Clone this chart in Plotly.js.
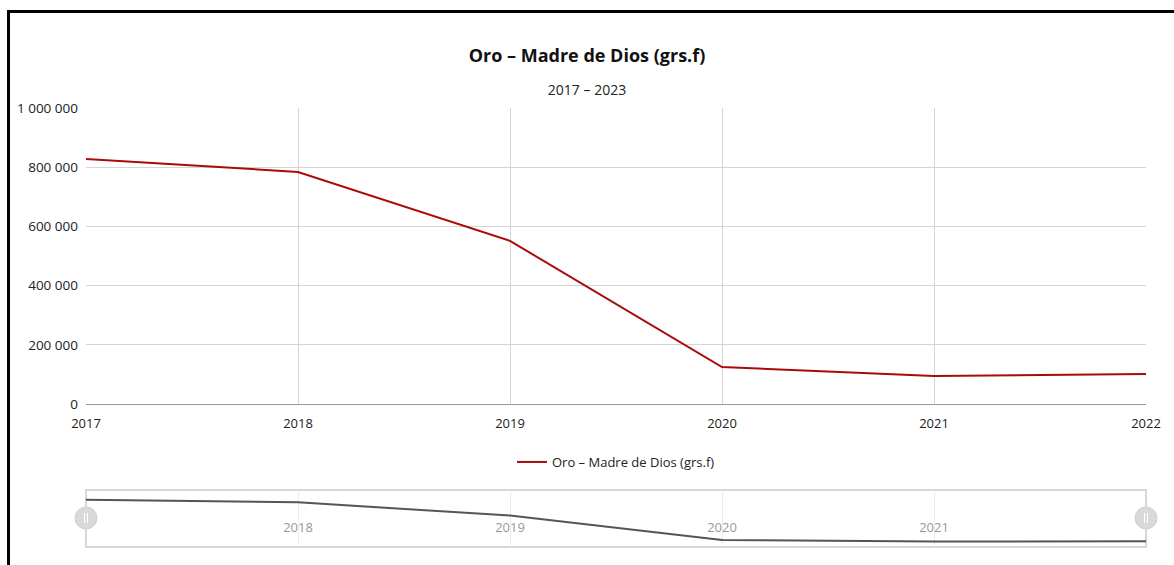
<!DOCTYPE html>
<html>
<head>
<meta charset="utf-8">
<script src="https://cdn.plot.ly/plotly-3.0.1.min.js"></script>
<style>
html,body{margin:0;padding:0;background:#fff;}
#wrap{position:relative;width:1174px;height:565px;overflow:hidden;}
#frame{position:absolute;left:7px;top:10px;width:1200px;height:600px;border-top:3px solid #000;border-left:3px solid #000;pointer-events:none;z-index:5;}
#chart{position:absolute;left:0;top:0;width:1174px;height:565px;}
</style>
</head>
<body>
<div id="wrap"><div id="chart"></div><div id="frame"></div></div>
<script>
const years = [2017, 2018, 2019, 2020, 2021, 2022];
const values = [828000, 784000, 551000, 125000, 95000, 101000];
const seriesName = "Oro – Madre de Dios (grs.f)";
const chartTitle = "Oro – Madre de Dios (grs.f)";
const chartSubtitle = "2017 – 2023";
const yTicks = [0, 200000, 400000, 600000, 800000, 1000000];
const navTicks = [2018, 2019, 2020, 2021];

const font = "Open Sans, DejaVu Sans, sans-serif";

const traces = [
  {x: years, y: values, type: "scatter", mode: "lines", name: seriesName,
   line: {color: "#aa0a0a", width: 2}, xaxis: "x", yaxis: "y", hoverinfo: "x+y"},
  {x: years, y: values, type: "scatter", mode: "lines", showlegend: false,
   line: {color: "#555555", width: 2}, xaxis: "x2", yaxis: "y2", hoverinfo: "skip"}
];

const handle = (xd) => ({type: "circle", xref: "x2 domain", yref: "paper",
  xsizemode: "pixel", ysizemode: "pixel", xanchor: xd, yanchor: (547-518)/439,
  x0: -11, x1: 11, y0: -11, y1: 11, fillcolor: "#d9d9d9", line: {color: "#d0d0d0", width: 1}, layer: "above"});
const bar = (xd, dx) => ({type: "line", xref: "x2 domain", yref: "paper",
  xsizemode: "pixel", ysizemode: "pixel", xanchor: xd, yanchor: (547-518)/439,
  x0: dx, x1: dx, y0: -5, y1: 5, line: {color: "#ffffff", width: 1}, layer: "above"});

const layout = {
  width: 1174, height: 565,
  margin: {l: 86, r: 28, t: 108, b: 18},
  paper_bgcolor: "#fff", plot_bgcolor: "#fff",
  separators: ", ",
  font: {family: font, size: 13, color: "#222"},
  title: {text: "<b>" + chartTitle + "</b>", font: {family: font, size: 18, color: "#111"},
    x: 0.5, xanchor: "center", y: 1 - 56/565, yanchor: "middle", yref: "container",
    subtitle: {text: chartSubtitle, font: {family: font, size: 14, color: "#222"}}},
  showlegend: true,
  legend: {orientation: "h", x: 0.5, xanchor: "center", y: (547-462)/439, yanchor: "middle",
    font: {family: font, size: 13, color: "#222"}},
  xaxis: {domain: [0, 1], range: [2017, 2022], tickvals: years, ticktext: years.map(String),
    showgrid: true, gridcolor: "#d5d5d5", gridwidth: 1, showline: true, linecolor: "#999", linewidth: 1,
    ticks: "", ticklen: 0, zeroline: false, anchor: "y", fixedrange: true, ticklabelstandoff: 7,
    tickfont: {family: font, size: 13, color: "#222"}},
  yaxis: {domain: [(547-404)/439, 1], range: [0, 1000000], tickvals: yTicks, tickformat: ",d",
    showgrid: true, gridcolor: "#d5d5d5", gridwidth: 1, zeroline: false, showline: false,
    ticks: "", anchor: "x", fixedrange: true, ticklabelstandoff: 7,
    tickfont: {family: font, size: 13.5, color: "#222"}},
  xaxis2: {domain: [0, 1], range: [2017, 2022], tickvals: navTicks, ticktext: navTicks.map(String),
    showgrid: true, gridcolor: "#ececec", showline: false, ticks: "", zeroline: false,
    anchor: "free", position: (547-518)/439, fixedrange: true,
    tickfont: {family: font, size: 13, color: "#999"}},
  yaxis2: {domain: [0, (547-490)/439], range: [0, 1000000], showticklabels: false, showgrid: false,
    zeroline: false, showline: false, anchor: "x2", fixedrange: true},
  shapes: [
    {type: "rect", xref: "x2 domain", yref: "y2 domain", x0: 0, x1: 1, y0: 0, y1: 1,
     line: {color: "#d6d6d6", width: 2}, fillcolor: "rgba(0,0,0,0)", layer: "below"},
    handle(0), handle(1), bar(0, -1.5), bar(0, 1.5), bar(1, -1.5), bar(1, 1.5)
  ]
};

Plotly.newPlot("chart", traces, layout, {displayModeBar: false, staticPlot: false});
</script>
</body>
</html>
